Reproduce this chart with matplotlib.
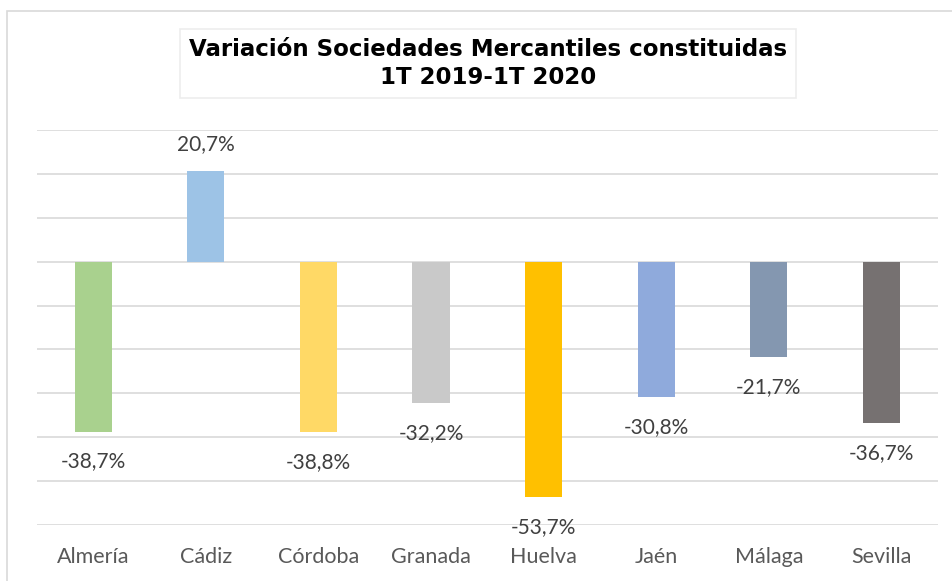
import matplotlib.pyplot as plt
from matplotlib.patches import Rectangle

provincias = ["Almería", "Cádiz", "Córdoba", "Granada", "Huelva", "Jaén", "Málaga", "Sevilla"]
variacion = [-38.7, 20.7, -38.8, -32.2, -53.7, -30.8, -21.7, -36.7]
colores = ["#A9D18E", "#9DC3E6", "#FFD966", "#C9C9C9", "#FFC000", "#8FAADC", "#8497B0", "#767171"]
titulo = "Variación Sociedades Mercantiles constituidas\n1T 2019-1T 2020"

fig = plt.figure(figsize=(9.53, 5.81), dpi=100)
ax = fig.add_axes([0.0388, 0.0964, 0.9452, 0.6798])

x = range(len(provincias))
ax.bar(x, variacion, width=0.33, color=colores, zorder=3)

# etiquetas de datos: encima si positivo, debajo si negativo
for i, v in enumerate(variacion):
    etiqueta = f"{v:.1f}%".replace(".", ",")
    off = 27 if v > 0 else -30
    ax.annotate(etiqueta, (i, v), xytext=(0, off), textcoords="offset pixels",
                ha="center", va="center", fontsize=15, color="#404040", family="Lato")

ax.set_xlim(-0.5, len(provincias) - 0.5)
ax.set_ylim(-60, 30)
ax.set_yticks(range(-60, 31, 10))
ax.yaxis.grid(True, color="#D9D9D9", linewidth=1.2, zorder=0)
ax.tick_params(axis="y", left=False, labelleft=False)
ax.tick_params(axis="x", bottom=False, pad=12)
ax.set_xticks(list(x))
ax.set_xticklabels(provincias, fontsize=15.5, color="#595959", family="Lato")
for s in ax.spines.values():
    s.set_visible(False)

fig.text(0.512, 0.891, titulo, ha="center", va="center", fontsize=16.5,
         fontweight="bold", linespacing=1.25, family="DejaVu Sans",
         bbox=dict(boxstyle="square,pad=0.4", fc="white", ec="#EDEDED", lw=1.2))

# borde exterior del gráfico
fig.patches.append(Rectangle((7 / 953, -0.1), 1.2, 1 - 11 / 581 + 0.1,
                             transform=fig.transFigure, fill=False,
                             ec="#D9D9D9", lw=1.2))

fig.savefig("out.png", dpi=100)
